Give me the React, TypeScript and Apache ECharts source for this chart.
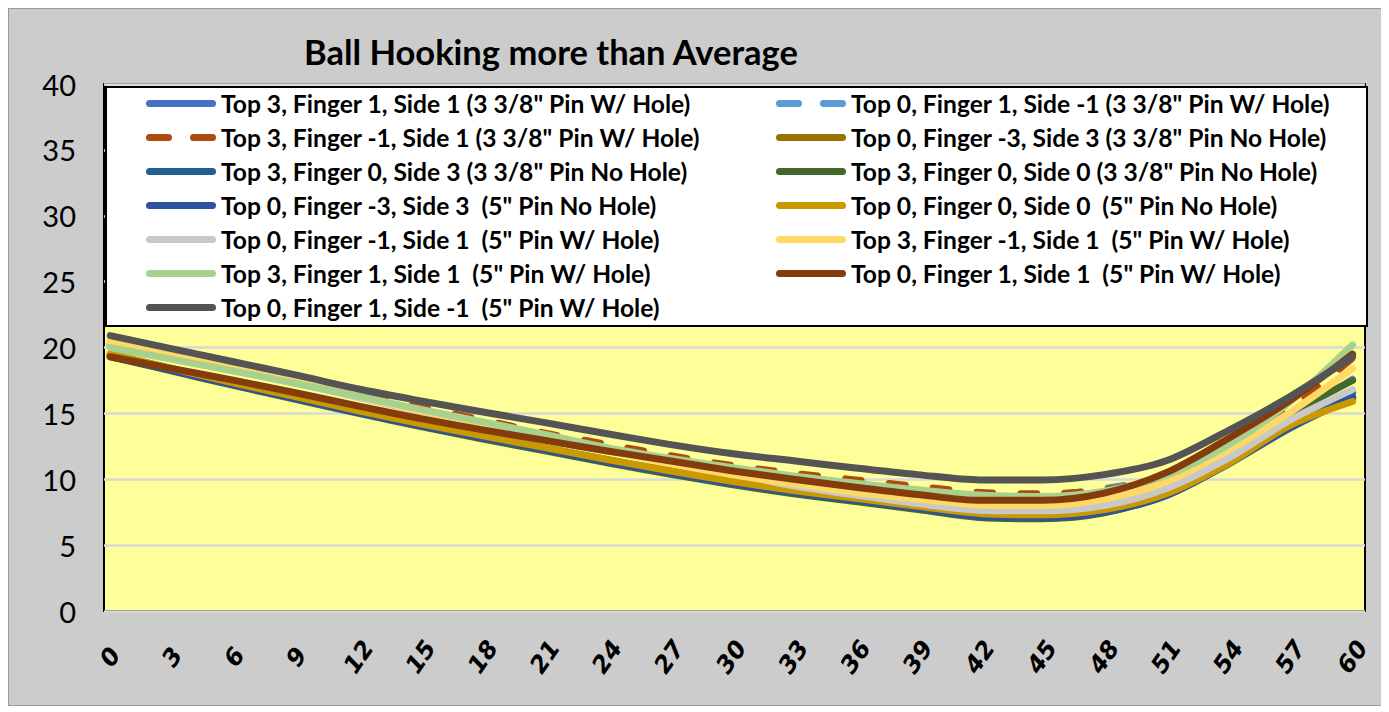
import React, { useEffect, useRef } from "react";
import * as echarts from "echarts";

const xValues = [0, 3, 6, 9, 12, 15, 18, 21, 24, 27, 30, 33, 36, 39, 42, 45, 48, 51, 54, 57, 60];
const yTicks = [0, 5, 10, 15, 20, 25, 30, 35, 40];

const names = [
  'Top 3, Finger 1, Side 1 (3 3/8" Pin W/ Hole)',
  'Top 0, Finger 1, Side -1 (3 3/8" Pin W/ Hole)',
  'Top 3, Finger -1, Side 1 (3 3/8" Pin W/ Hole)',
  'Top 0, Finger -3, Side 3 (3 3/8" Pin No Hole)',
  'Top 3, Finger 0, Side 3 (3 3/8" Pin No Hole)',
  'Top 3, Finger 0, Side 0 (3 3/8" Pin No Hole)',
  'Top 0, Finger -3, Side 3  (5" Pin No Hole)',
  'Top 0, Finger 0, Side 0  (5" Pin No Hole)',
  'Top 0, Finger -1, Side 1  (5" Pin W/ Hole)',
  'Top 3, Finger -1, Side 1  (5" Pin W/ Hole)',
  'Top 3, Finger 1, Side 1  (5" Pin W/ Hole)',
  'Top 0, Finger 1, Side 1  (5" Pin W/ Hole)',
  'Top 0, Finger 1, Side -1  (5" Pin W/ Hole)',
];

const s1 = [19.4, 18.3, 17.2, 16.15, 15.1, 14.1, 13.2, 12.3, 11.4, 10.55, 9.75, 9.05, 8.45, 7.85, 7.25, 7.15, 7.55, 8.8, 11.2, 14.0, 16.3];
const s2 = [20.2, 19.3, 18.4, 17.5, 16.5, 15.4, 14.3, 13.35, 12.5, 11.6, 10.9, 10.3, 9.8, 9.3, 8.9, 8.8, 9.3, 10.2, 11.9, 14.6, 17.6];
const s3 = [20.3, 19.4, 18.5, 17.6, 16.6, 15.5, 14.5, 13.5, 12.65, 11.8, 11.05, 10.45, 9.95, 9.45, 9.0, 8.9, 9.2, 10.2, 12.3, 15.4, 19.2];
const s4 = [19.5, 18.4, 17.3, 16.25, 15.2, 14.2, 13.3, 12.4, 11.5, 10.65, 9.85, 9.15, 8.55, 7.95, 7.4, 7.3, 7.7, 8.95, 11.3, 14.0, 16.1];
const s5 = [19.45, 18.35, 17.25, 16.2, 15.15, 14.15, 13.25, 12.35, 11.45, 10.6, 9.8, 9.1, 8.5, 7.9, 7.3, 7.2, 7.6, 8.9, 11.3, 14.1, 16.6];
const s6 = [19.3, 18.2, 17.1, 16.05, 15.0, 14.0, 13.05, 12.15, 11.25, 10.4, 9.6, 8.9, 8.3, 7.7, 7.1, 7.0, 7.45, 8.9, 11.5, 14.9, 17.5];
const s7 = [19.35, 18.25, 17.15, 16.1, 15.05, 14.05, 13.15, 12.25, 11.35, 10.5, 9.7, 9.0, 8.4, 7.8, 7.2, 7.1, 7.5, 8.75, 11.15, 13.9, 16.2];
const s8 = [19.5, 18.4, 17.3, 16.25, 15.2, 14.2, 13.3, 12.4, 11.5, 10.65, 9.85, 9.15, 8.55, 7.95, 7.4, 7.3, 7.7, 8.9, 11.2, 14.1, 15.9];
const s9 = [20.3, 19.3, 18.3, 17.3, 16.2, 15.15, 14.1, 13.1, 12.2, 11.3, 10.45, 9.5, 8.8, 8.15, 7.65, 7.6, 8.0, 9.3, 11.6, 14.5, 16.8];
const s10 = [20.5, 19.5, 18.5, 17.45, 16.3, 15.2, 14.2, 13.2, 12.2, 11.2, 10.35, 9.65, 9.0, 8.5, 8.05, 8.0, 8.5, 9.8, 12.2, 15.1, 18.4];
const s11 = [20.0, 19.1, 18.2, 17.25, 16.3, 15.3, 14.35, 13.4, 12.4, 11.6, 10.9, 10.25, 9.7, 9.2, 8.8, 8.7, 9.1, 10.3, 12.6, 15.9, 20.2];
const s12 = [19.3, 18.4, 17.5, 16.55, 15.55, 14.6, 13.75, 12.95, 12.15, 11.4, 10.65, 10.0, 9.4, 8.85, 8.4, 8.4, 8.95, 10.5, 13.1, 16.0, 19.5];
const s13 = [20.9, 19.9, 18.9, 17.9, 16.85, 15.95, 15.1, 14.3, 13.45, 12.65, 11.95, 11.4, 10.85, 10.35, 9.95, 9.95, 10.35, 11.4, 13.7, 16.3, 19.3];

const seriesValues = [s1, s2, s3, s4, s5, s6, s7, s8, s9, s10, s11, s12, s13];
const colors = [
  "#4472C4", "#5B9BD5", "#AE4B0F", "#997300", "#255E91", "#43682B", "#2F52A0",
  "#C99A00", "#C8C8C8", "#FFD966", "#A9D18E", "#843C0C", "#545454",
];
const dashed = [false, true, true, false, false, false, false, false, false, false, false, false, false];

const SOLID_ICON = "path://M3.5,0H66.5A3.5,3.5,0,0,1,66.5,7H3.5A3.5,3.5,0,0,1,3.5,0Z";
const DASH_ICON =
  "path://M3.5,0H22.5A3.5,3.5,0,0,1,22.5,7H3.5A3.5,3.5,0,0,1,3.5,0Z M47.5,0H66.5A3.5,3.5,0,0,1,66.5,7H47.5A3.5,3.5,0,0,1,47.5,0Z";

const legendItem = (i: number) => ({ name: names[i], icon: dashed[i] ? DASH_ICON : SOLID_ICON });
const leftCol = [0, 2, 4, 6, 8, 10, 12].map(legendItem);
const rightCol = [1, 3, 5, 7, 9, 11].map(legendItem);

export default function App() {
  const ref = useRef<HTMLDivElement>(null);
  useEffect(() => {
    if (!ref.current) return;
    const chart = echarts.init(ref.current, null, { renderer: "svg" });
    const legendText = {
      fontFamily: "Lato",
      fontWeight: "bold" as const,
      fontSize: 24.6,
      lineHeight: 24,
      color: "#000",
    };
    const legendBase = {
      orient: "vertical",
      top: 82,
      padding: 0,
      itemWidth: 70,
      itemHeight: 7,
      itemGap: 9,
      z: 10,
      textStyle: legendText,
    };
    chart.setOption({
      animation: false,
      backgroundColor: "#CCCCCC",
      title: {
        text: "Ball Hooking more than Average",
        left: 290,
        top: 20,
        textStyle: { fontFamily: "Lato", fontWeight: "bold", fontSize: 34.5, color: "#000" },
      },
      grid: {
        left: 95,
        right: 20,
        top: 75,
        bottom: 94,
        show: true,
        backgroundColor: "#FFFF99",
        borderColor: "#000",
        borderWidth: 2,
      },
      graphic: [
        {
          type: "rect",
          z: 5,
          shape: { x: 97, y: 78, width: 1261, height: 239 },
          style: { fill: "#fff", stroke: "#000", lineWidth: 2 },
        },
      ],
      legend: [
        { ...legendBase, data: leftCol, left: 137 },
        { ...legendBase, data: rightCol, left: 767 },
      ],
      xAxis: {
        type: "value",
        min: -0.3,
        max: 60.6,
        axisLine: { show: false },
        axisTick: { show: false },
        splitLine: { show: false },
        axisLabel: {
          customValues: xValues,
          rotate: 55,
          align: "center",
          verticalAlign: "middle",
          margin: 46,
          fontFamily: "DejaVu Sans",
          fontStyle: "italic",
          fontWeight: "bold",
          fontSize: 24,
          color: "#000",
          formatter: (v: number) => String(v),
        },
      },
      yAxis: {
        type: "value",
        min: yTicks[0],
        max: yTicks[yTicks.length - 1],
        interval: 5,
        axisLine: { show: false },
        axisTick: { show: false },
        splitLine: { show: true, lineStyle: { color: "#D9D9D9", width: 2.5 } },
        axisLabel: {
          margin: 28,
          fontFamily: "Lato",
          fontSize: 29,
          color: "#000",
        },
      },
      series: seriesValues.map((vals, i) => ({
        name: names[i],
        type: "line",
        smooth: 0.3,
        symbol: "none",
        data: vals.map((v, j) => [xValues[j], v]),
        lineStyle: {
          color: colors[i],
          width: 7,
          type: dashed[i] ? [16, 28] : "solid",
          cap: "round",
          join: "round",
        },
        itemStyle: { color: colors[i] },
      })),
    });
    return () => chart.dispose();
  }, []);
  return (
    <div
      ref={ref}
      style={{
        width: 1378,
        height: 698,
        boxSizing: "border-box",
        border: "1px solid #9a9a9a",
        boxShadow: "inset 0 2px 4px #f4f4f4",
      }}
    />
  );
}
